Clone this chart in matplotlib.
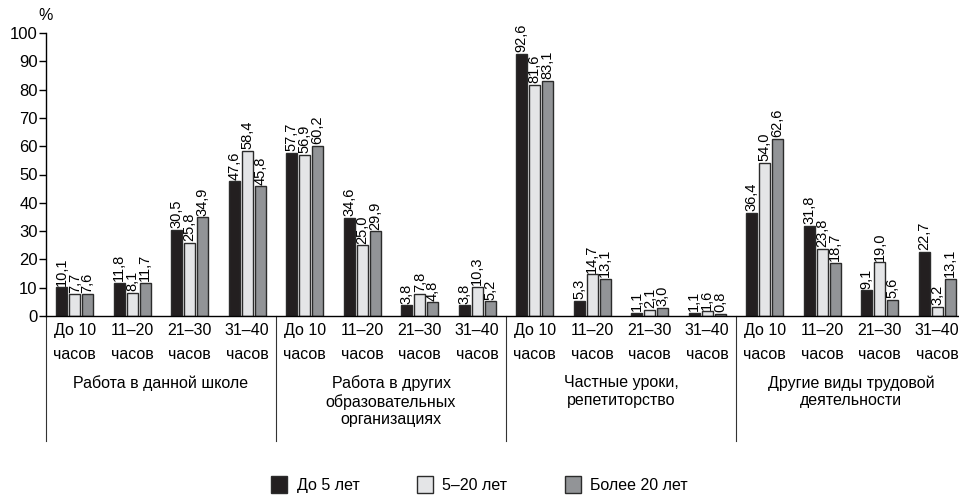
import numpy as np
import matplotlib
matplotlib.use('Agg')
import matplotlib.pyplot as plt
import matplotlib.transforms as mtransforms
from matplotlib.patches import Patch

plt.rcParams['font.family'] = ['Liberation Sans Narrow', 'Liberation Sans', 'DejaVu Sans']

# data
hours = ['До 10\nчасов', '11–20\nчасов', '21–30\nчасов', '31–40\nчасов']
groups = ['Работа в данной школе',
          'Работа в других\nобразовательных\nорганизациях',
          'Частные уроки,\nрепетиторство',
          'Другие виды трудовой\nдеятельности']
series_names = ['До 5 лет', '5–20 лет', 'Более 20 лет']
under5 = [10.1, 11.8, 30.5, 47.6, 57.7, 34.6, 3.8, 3.8, 92.6, 5.3, 1.1, 1.1, 36.4, 31.8, 9.1, 22.7]
mid = [7.7, 8.1, 25.8, 58.4, 56.9, 25.0, 7.8, 10.3, 81.6, 14.7, 2.1, 1.6, 54.0, 23.8, 19.0, 3.2]
over20 = [7.6, 11.7, 34.9, 45.8, 60.2, 29.9, 4.8, 5.2, 83.1, 13.1, 3.0, 0.8, 62.6, 18.7, 5.6, 13.1]

colors = ['#231f20', '#e4e5e7', '#929497']
edge = '#2b2b2b'

fig = plt.figure(figsize=(9.59, 4.95), dpi=100)
W, H = 959, 495
ax = fig.add_axes([46 / W, (H - 316) / H, 920 / W, 283 / H])

x = np.arange(len(under5))
width = 0.19
offsets = [-0.225, 0, 0.225]
for vals, off, c in zip([under5, mid, over20], offsets, colors):
    bars = ax.bar(x + off, vals, width, color=c, edgecolor=edge, linewidth=1, zorder=2)
    for b, v in zip(bars, vals):
        ax.text(b.get_x() + b.get_width() / 2, v + 0.6, f'{v:.1f}'.replace('.', ','),
                rotation=90, ha='center', va='bottom', fontsize=10.5)

ax.set_xlim(-0.5, 15.5)
ax.set_ylim(0, 100)
ax.set_yticks(range(0, 101, 10))
ax.tick_params(axis='y', labelsize=12, length=5, width=1, pad=1)
ax.set_xticks(x)
ax.set_xticklabels(hours * 4, fontsize=11.5, linespacing=1.75)
ax.tick_params(axis='x', length=0, pad=5)
for s in ['top', 'right']:
    ax.spines[s].set_visible(False)
ax.spines['left'].set_linewidth(1)
ax.spines['bottom'].set_linewidth(1)
trans = mtransforms.blended_transform_factory(ax.transData, ax.transAxes)
ax.text(-0.5, 1.035, '%', transform=trans, ha='center', va='bottom', fontsize=11.5)

# group separators and labels below the axis
for pos in [-0.5, 3.5, 7.5, 11.5]:
    ax.plot([pos, pos], [0, -0.44], color='#333333', linewidth=0.8, transform=trans, clip_on=False)
for i, g in enumerate(groups):
    ax.text(4 * i + 1.5, -0.21, g, transform=trans, ha='center', va='top',
            fontsize=11.5, linespacing=1.2)

handles = [Patch(facecolor=c, edgecolor=edge, linewidth=1) for c in colors]
fig.legend(handles, series_names, loc='lower center', bbox_to_anchor=(0.5, -0.025), ncol=3,
           frameon=False, fontsize=11.5, handlelength=1.0, handleheight=1.2,
           columnspacing=3.6, handletextpad=0.6)

fig.savefig('out.png', dpi=100)
